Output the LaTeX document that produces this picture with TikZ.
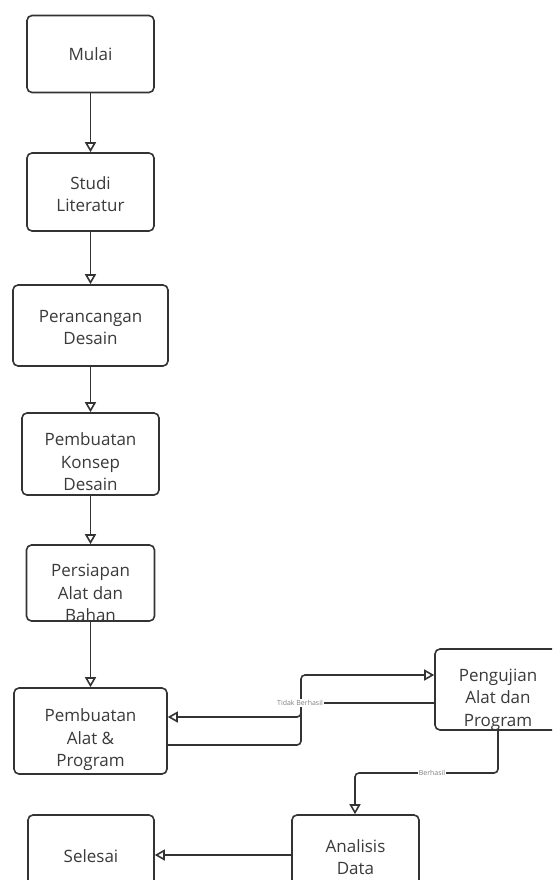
\documentclass[tikz,border=0pt]{standalone}
\usepackage{fontspec}
\setmainfont{Open Sans}
\usetikzlibrary{arrows.meta}
\definecolor{lin}{HTML}{333333}
\definecolor{txc}{HTML}{3A3A3A}
\tikzset{
  box/.style={draw=lin, line width=1.6pt, rounded corners=5pt, fill=white},
  txt/.style={text=txc, align=center, font=\fontsize{17}{22.5}\selectfont, inner sep=0pt},
  lbl/.style={text=gray, fill=white, font=\fontsize{7}{8}\selectfont, inner sep=1pt},
  conn/.style={draw=lin, line width=1.6pt, rounded corners=4pt, -{Triangle[open,length=10pt,width=11pt]}},
}
\begin{document}
\begin{tikzpicture}[x=1pt,y=-1pt]
\useasboundingbox (0,0) rectangle (552,880);
\clip (0,0) rectangle (552,880);
\fill[white] (0,0) rectangle (552,880);
% boxes
\node[box, minimum width=127pt, minimum height=77pt] (mulai) at (90.5,54) {};
\node[txt] (tmulai) at (mulai.center) {Mulai};
\node[box, minimum width=127pt, minimum height=78pt] (studi) at (90.5,192) {};
\node[txt] (tstudi) at ([yshift=-2pt]studi.center) {Studi\\Literatur};
\node[box, minimum width=155pt, minimum height=81pt] (ranc) at (90.5,325.5) {};
\node[txt] (tranc) at ([yshift=-2pt]ranc.center) {Perancangan\\Desain};
\node[box, minimum width=137pt, minimum height=82pt] (konsep) at (90.5,454) {};
\node[txt] (tkonsep) at ([yshift=-8pt]konsep.center) {Pembuatan\\Konsep\\Desain};
\node[box, minimum width=128pt, minimum height=76pt] (siap) at (90.5,583) {};
\node[txt] (tsiap) at ([yshift=-10pt]siap.center) {Persiapan\\Alat dan\\Bahan};
\node[box, minimum width=153pt, minimum height=86pt] (buat) at (90.5,731) {};
\node[txt] (tbuat) at ([yshift=-9pt]buat.center) {Pembuatan\\Alat \&\\Program};
\node[box, minimum width=126pt, minimum height=81pt] (uji) at (498,689.5) {};
\node[txt] (tuji) at ([yshift=-10pt]uji.center) {Pengujian\\Alat dan\\Program};
\node[box, minimum width=127pt, minimum height=82pt] (anal) at (355.5,856) {};
\node[txt] (tanal) at ([yshift=-1pt]anal.center) {Analisis\\Data};
\node[box, minimum width=126pt, minimum height=82pt] (sele) at (91,856) {};
\node[txt] (tsele) at (sele.center) {Selesai};
% connectors
\draw[conn] (mulai.south) -- (studi.north);
\draw[conn] (studi.south) -- (ranc.north);
\draw[conn] (ranc.south) -- (konsep.north);
\draw[conn] (konsep.south) -- (siap.north);
\draw[conn] (siap.south) -- (buat.north);
\coordinate (b1) at (buat.east |- 0,745);
\coordinate (u1) at (uji.west |- 0,675);
\draw[conn] (b1) -- (301,745) -- (301,675) -- (u1);
\coordinate (u2) at (uji.west |- 0,703);
\coordinate (b2) at (buat.east |- 0,717);
\draw[conn] (u2) -- (301,703) -- (301,717) -- (b2);
\node[lbl] (ltidak) at (300,703) {Tidak Berhasil};
\draw[conn] (uji.south) -- (498,773) -- (355,773) -- (anal.north -| 355,0);
\node[lbl] (lber) at (432,773) {Berhasil};
\coordinate (a1) at (anal.west |- 0,855);
\coordinate (s1) at (sele.east |- 0,855);
\draw[conn] (a1) -- (s1);
\end{tikzpicture}
\end{document}
